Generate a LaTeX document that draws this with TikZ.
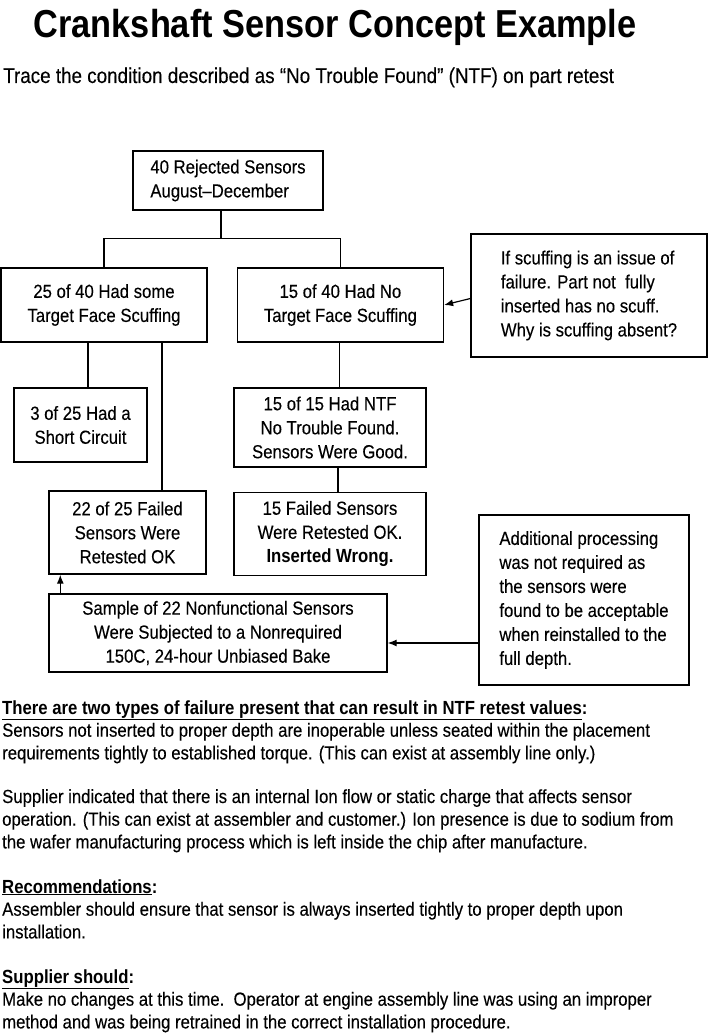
\documentclass[tikz,border=0pt]{standalone}
\usepackage{fontspec}
\setmainfont{Liberation Sans}[FakeStretch=0.88, UprightFeatures={FakeBold=0.2}]
\usetikzlibrary{arrows.meta,positioning}

\begin{document}
\begin{tikzpicture}[
    x=1pt, y=-1pt,
    box/.style={rectangle, draw, line width=1.4pt, align=center, inner sep=2pt, font=\fontsize{19}{24}\selectfont},
    note/.style={box, align=left},
    wire/.style={line width=1.1pt},
    arrow/.style={-{Latex[length=9pt, width=7pt]}, line width=1.2pt},
    para/.style={anchor=base west, align=left, inner sep=0pt, font=\fontsize{19}{22.7}\selectfont}
]
\useasboundingbox (0,0) rectangle (708,1035);

% Heading
\node[anchor=base, inner sep=0pt, font=\fontsize{39}{44}\selectfont\bfseries] (title) at (335,38) {Crankshaft Sensor Concept Example};
\node[anchor=base west, inner sep=0pt, font=\fontsize{21.4}{24}\selectfont] (subtitle) at (3,83) {Trace the condition described as “No Trouble Found” (NTF) on part retest};

% Top
\node[note, minimum width=190, minimum height=59] (rejected) at (228,180.5) {40 Rejected Sensors\\August--December};

% Second row
\node[box, minimum width=206, minimum height=74] (scuff) at (104,305) {25 of 40 Had some\\Target Face Scuffing};
\node[box, minimum width=206, minimum height=74, right=29pt of scuff] (noscuff) {15 of 40 Had No\\Target Face Scuffing};
\node[note, minimum width=236, minimum height=123] (why) at (589,295.5) {If scuffing is an issue of\\failure. Part not\ \ fully\\inserted has no scuff.\\Why is scuffing absent?};

% Third row
\node[box, minimum width=133, minimum height=74] (shorted) at (80.5,425) {3 of 25 Had a\\Short Circuit};
\node[box, minimum width=192, minimum height=79] (ntf) at (330,427.5) {15 of 15 Had NTF\\No Trouble Found.\\Sensors Were Good.};

% Fourth row
\node[box, minimum width=157, minimum height=83] (retested) at (127.5,532.5) {22 of 25 Failed\\Sensors Were\\Retested OK};
\node[box, minimum width=192, minimum height=83, below=24pt of ntf] (inserted) {15 Failed Sensors\\Were Retested OK.\\\textbf{Inserted Wrong.}};

% Bake and side note
\node[box, minimum width=338, minimum height=78] (bake) at (218,633) {Sample of 22 Nonfunctional Sensors\\Were Subjected to a Nonrequired\\150C, 24-hour Unbiased Bake};
\node[note, minimum width=210, minimum height=170] (noproc) at (584,600) {Additional processing\\was not required as\\the sensors were\\found to be acceptable\\when reinstalled to the\\full depth.};

% Connectors
\coordinate (split) at (221,239);
\draw[wire] (rejected.south -| split) -- (split);
\draw[wire] (scuff.north) -- ++(0,-29) -| (noscuff.north);
\draw[wire] ([xshift=-16pt]scuff.south) -- ([xshift=-16pt]scuff.south |- shorted.north);
\draw[wire] ([xshift=58pt]scuff.south) -- ([xshift=58pt]scuff.south |- retested.north);
\draw[wire] ([xshift=-1pt]noscuff.south) -- ([xshift=-1pt]noscuff.south |- ntf.north);
\draw[wire] ([xshift=8pt]ntf.south) -- ([xshift=8pt]inserted.north);
\draw[arrow] ([yshift=-3pt]why.west) -- (noscuff.east);
\draw[arrow] ([xshift=12pt]bake.north west) -- ([xshift=12pt]retested.south west);
\draw[arrow] ([yshift=-10pt]bake.east -| noproc.west) -- ([yshift=-10pt]bake.east);

% Notes below (base = last line)
\node[para] (failures) at (2,759.4) {\textbf{\underline{There are two types of failure present that can result in NTF retest values}:}\\Sensors not inserted to proper depth are inoperable unless seated within the placement\\requirements tightly to established torque. (This can exist at assembly line only.)};
\node[para] (ion) at (2,848.4) {Supplier indicated that there is an internal Ion flow or static charge that affects sensor\\operation. (This can exist at assembler and customer.) Ion presence is due to sodium from\\the wafer manufacturing process which is left inside the chip after manufacture.};
\node[para] (recommend) at (2,938.4) {\textbf{\underline{Recommendations}:}\\Assembler should ensure that sensor is always inserted tightly to proper depth upon\\installation.};
\node[para] (supplier) at (2,1028.4) {\textbf{\underline{Supplier should}:}\\Make no changes at this time.\ \ Operator at engine assembly line was using an improper\\method and was being retrained in the correct installation procedure.};

\end{tikzpicture}
\end{document}
